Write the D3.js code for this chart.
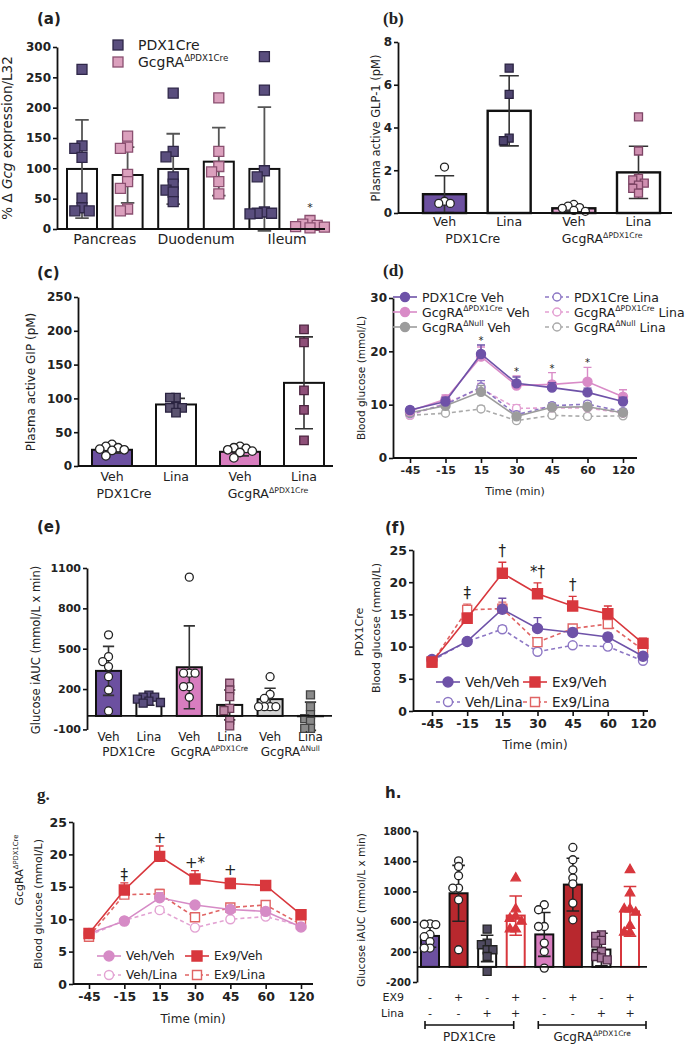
<!DOCTYPE html>
<html>
<head>
<meta charset="utf-8">
<script src="https://cdn.jsdelivr.net/npm/d3@7"></script>
<style>
  body { margin: 0; background: #fff; }
  svg { font-family: "DejaVu Sans", sans-serif; }
</style>
</head>
<body>
<svg id="fig" width="700" height="1050"></svg>
<script>
// ---------- (a) Gcg expression
const aTissues = ["Pancreas", "Duodenum", "Ileum"];
const aTicks = [0, 50, 100, 150, 200, 250, 300];
const aMeans = [99, 89, 99, 111, 99, 6];
const aSD = [81, 46, 58, 56, 102, 4];
const aPoints = [
  [263, 133, 137, 118, 51, 35, 30, 30],
  [153, 133, 135, 90, 78, 67, 30, 33],
  [224, 128, 119, 86, 74, 61, 64, 45],
  [216, 128, 94, 103, 78, 58],
  [284, 229, 96, 86, 26, 28, 26, 25],
  [3, 6, 14, 8, 2, 4]
];
const aStars = ["", "", "", "", "", "*"];

// ---------- (b) active GLP-1
const bTreat = ["Veh", "Lina", "Veh", "Lina"];
const bTicks = [0, 2, 4, 6, 8];
const bMeans = [0.88, 4.78, 0.22, 1.9];
const bSD = [0.86, 1.64, 0.13, 1.22];
const bPoints = [
  [2.15, 0.55, 0.45, 0.45],
  [6.78, 5.55, 3.5, 3.38],
  [0.32, 0.25, 0.22, 0.4, 0.12, 0.08],
  [4.5, 2.9, 1.62, 1.55, 1.4, 1.3, 1.15, 0.93]
];

// ---------- (c) active GIP
const cTreat = ["Veh", "Lina", "Veh", "Lina"];
const cTicks = [0, 50, 100, 150, 200, 250];
const cMeans = [24, 91, 21, 123];
const cSD = [5, 9, 6, 68];
const cPoints = [
  [29, 27, 32, 25, 23, 24, 15],
  [101, 101, 88, 86, 86, 79],
  [27, 29, 24, 26, 22, 12, 20],
  [202, 183, 112, 83, 38]
];

// genotype names
const genoBase = ["PDX1Cre", "GcgRA", "GcgRA"];
const genoSup = ["", "ΔPDX1Cre", "ΔNull"];

// ---------- (d) OGTT, all groups
const times = ["-45", "-15", "15", "30", "45", "60", "120"];
const dTicks = [0, 10, 20, 30];
const dPdxVeh = [9.0, 10.6, 19.5, 14.0, 13.2, 12.3, 10.6];
const dPdxVehSem = [0.5, 0.8, 1.7, 1.2, 0.9, 0.8, 0.8];
const dGcgVeh = [8.8, 11.0, 19.0, 13.6, 13.8, 14.3, 11.5];
const dGcgVehSem = [0.5, 0.8, 1.8, 1.8, 2.2, 2.7, 1.3];
const dNullVeh = [8.5, 9.8, 12.4, 7.8, 9.5, 9.6, 8.5];
const dNullVehSem = [0.4, 0.5, 1.2, 0.5, 0.6, 0.6, 0.5];
const dPdxLina = [8.3, 10.0, 13.3, 8.1, 9.8, 10.1, 8.7];
const dPdxLinaSem = [0.4, 0.5, 1.2, 0.6, 0.5, 0.5, 0.4];
const dGcgLina = [8.0, 10.3, 13.0, 9.3, 9.4, 9.4, 8.4];
const dGcgLinaSem = [0.4, 0.6, 1.0, 0.7, 0.6, 0.6, 0.5];
const dNullLina = [8.0, 8.4, 9.2, 7.0, 8.0, 7.8, 7.9];
const dNullLinaSem = [0.3, 0.4, 0.5, 0.4, 0.4, 0.4, 0.4];
const dMarks = ["", "", "*", "*", "*", "*", ""];

// ---------- (e) glucose iAUC
const eTreat = ["Veh", "Lina", "Veh", "Lina", "Veh", "Lina"];
const eTicks = [-100, 200, 500, 800, 1100];
const eMeans = [335, 115, 362, 82, 125, -2];
const eSD = [182, 35, 308, 111, 81, 105];
const ePoints = [
  [603, 441, 404, 367, 292, 193, 37],
  [155, 140, 140, 125, 110, 100, 95],
  [1032, 318, 318, 318, 218, 218, 139],
  [243, 193, 144, 57, 40, -30, -74],
  [292, 161, 130, 69, 69, 69, 69],
  [156, 69, 10, -20, -40, -92, -92]
];

// ---------- (f) PDX1Cre, Ex9 +/- Lina
const fTicks = [0, 5, 10, 15, 20, 25];
const fVehVeh = [8.0, 10.8, 15.8, 12.8, 12.2, 11.5, 8.5];
const fVehVehSem = [0.4, 0.4, 1.7, 1.7, 0.6, 0.6, 0.5];
const fVehLina = [7.8, 10.8, 12.7, 9.2, 10.2, 10.0, 7.8];
const fVehLinaSem = [0.3, 0.3, 0.5, 0.5, 0.4, 0.4, 0.3];
const fEx9Veh = [7.6, 14.4, 21.4, 18.2, 16.3, 15.1, 10.5];
const fEx9VehSem = [0.5, 0.8, 1.7, 1.7, 1.5, 1.2, 0.8];
const fEx9Lina = [7.5, 15.7, 15.9, 10.7, 12.8, 13.5, 9.5];
const fEx9LinaSem = [0.4, 0.9, 1.0, 0.6, 0.6, 0.6, 0.5];
const fMarks = ["", "‡", "†", "*†", "†", "", ""];

// ---------- (g) GcgRA dPDX1Cre, Ex9 +/- Lina
const gTicks = [0, 5, 10, 15, 20, 25];
const gVehVeh = [7.8, 9.7, 13.3, 12.2, 11.5, 11.2, 8.8];
const gVehVehSem = [0.4, 0.3, 0.8, 0.5, 0.5, 0.5, 0.4];
const gVehLina = [7.5, 9.8, 11.4, 8.7, 10.0, 10.4, 9.0];
const gVehLinaSem = [0.4, 0.3, 0.5, 0.4, 0.4, 0.4, 0.3];
const gEx9Veh = [7.8, 14.5, 19.7, 16.2, 15.5, 15.2, 10.7];
const gEx9VehSem = [0.6, 1.1, 1.6, 1.3, 0.8, 0.5, 0.6];
const gEx9Lina = [7.3, 13.8, 13.9, 10.3, 11.8, 12.2, 9.2];
const gEx9LinaSem = [0.4, 0.6, 0.7, 0.5, 0.5, 0.5, 0.4];
const gMarks = ["", "‡", "+", "+*", "+", "", ""];

// ---------- (h) iAUC, Ex9 +/- Lina
const hTicks = [-200, 200, 600, 1000, 1400, 1800];
const hEx9 = ["-", "+", "-", "+", "-", "+", "-", "+"];
const hLina = ["-", "-", "+", "+", "-", "-", "+", "+"];
const hMeans = [410, 975, 245, 680, 430, 1090, 230, 735];
const hSD = [150, 370, 175, 260, 290, 350, 215, 330];
const hPoints = [
  [571, 560, 565, 430, 400, 336, 250, 250],
  [1405, 1330, 1207, 1044, 1044, 889, 227],
  [500, 315, 295, 227, 227, 138, -60],
  [1176, 766, 668, 640, 602, 500, 500],
  [757, 823, 535, 535, 315, 204, -16],
  [1582, 1419, 1286, 1176, 1100, 845, 624],
  [425, 403, 350, 315, 204, 138, 94, 120],
  [1286, 977, 766, 766, 721, 545, 456, 456]
];

// colours
const PURPLE = "#6c50a0";
const PINK = "#d87dbf";
const DARKRED = "#b8282e";
const RED = "#d8373d";
const INK = "#222";

const svg = d3.select("#fig");

// ---------- helpers
function rich(t, parts, size) {
  let cur = 0;
  parts.forEach(p => {
    const ts = t.append("tspan").text(p.t);
    const target = p.sup ? -size * 0.42 : 0;
    if (target !== cur) ts.attr("dy", target - cur);
    cur = target;
    if (p.sup) ts.attr("font-size", size * 0.62);
    if (p.it) ts.attr("font-style", "italic");
  });
}

function label(x, y, parts, size, o = {}) {
  const t = svg.append("text")
    .attr("font-size", size)
    .attr("text-anchor", o.anchor || "start")
    .attr("fill", o.color || INK);
  if (o.bold) t.attr("font-weight", "bold");
  if (o.serif) t.attr("font-family", "Liberation Serif, serif");
  if (o.rotate) t.attr("transform", `translate(${x},${y}) rotate(-90)`);
  else t.attr("x", x).attr("y", y);
  rich(t, typeof parts === "string" ? [{ t: parts }] : parts, size);
  return t;
}

function geno(i) {
  return genoSup[i] ? [{ t: genoBase[i] }, { t: genoSup[i], sup: true }] : [{ t: genoBase[i] }];
}

function yAxis(y, x0, ticks, size) {
  const g = svg.append("g").attr("transform", `translate(${x0},0)`)
    .call(d3.axisLeft(y).tickValues(ticks).tickSize(4).tickSizeOuter(0).tickPadding(2).tickFormat(d => String(d)));
  g.select(".domain").attr("stroke", "#111").attr("stroke-width", 1.8);
  g.selectAll(".tick line").attr("stroke", "#111").attr("stroke-width", 1.6);
  g.selectAll(".tick text").attr("font-size", size).attr("font-weight", "bold")
    .attr("font-family", "DejaVu Sans, sans-serif").attr("fill", INK);
  return g;
}

function hLine(y0, xa, xb) {
  svg.append("line").attr("x1", xa).attr("x2", xb).attr("y1", y0).attr("y2", y0)
    .attr("stroke", "#111").attr("stroke-width", 1.8);
}

function symArea(shape, s) {
  if (shape === d3.symbolSquare) return s * s;
  if (shape === d3.symbolTriangle) return s * s * 0.6;
  return Math.PI * s * s / 4;
}

// spread the dots of one group sideways so they do not overlap too much
function dodge(vals, y, cx, s) {
  const step = s * 0.72;
  const out = [];
  vals.map((v, i) => i).sort((a, b) => vals[b] - vals[a]).forEach(i => {
    const py = y(vals[i]);
    for (let k = 0; k < 40; k++) {
      const px = cx + (k === 0 ? 0 : (k % 2 ? -1 : 1) * Math.ceil(k / 2) * step);
      if (out.every(p => Math.hypot(p.x - px, p.y - py) >= step * 0.98)) {
        out.push({ x: px, y: py });
        break;
      }
    }
  });
  return out;
}

function bars(o) {
  const n = o.means.length;
  const x = d3.scaleBand().domain(d3.range(n)).range([o.x0, o.x1]).paddingInner(o.pad);
  const bw = x.bandwidth();
  const g = svg.append("g");
  g.selectAll("rect").data(o.means).join("rect")
    .attr("x", (d, i) => x(i))
    .attr("y", d => Math.min(o.y(d), o.y(0)))
    .attr("width", bw)
    .attr("height", d => Math.abs(o.y(d) - o.y(0)))
    .attr("fill", (d, i) => o.styles[i].fill)
    .attr("stroke", (d, i) => o.styles[i].stroke || "#111")
    .attr("stroke-width", o.barW || 2);
  const cap = bw * (o.cap || 0.45) / 2;
  g.selectAll("path.err").data(o.means).join("path").attr("class", "err")
    .attr("d", (d, i) => {
      const cx = x(i) + bw / 2, y1 = o.y(d + o.sd[i]), y2 = o.y(d - o.sd[i]);
      return `M${cx},${y1}V${y2}M${cx - cap},${y1}H${cx + cap}M${cx - cap},${y2}H${cx + cap}`;
    })
    .attr("fill", "none")
    .attr("stroke", (d, i) => o.styles[i].err || "#333")
    .attr("stroke-width", o.errW || 1.6);
  o.pts.forEach((vals, i) => {
    const st = o.styles[i];
    g.selectAll(null).data(dodge(vals, o.y, x(i) + bw / 2, o.ptSize)).join("path")
      .attr("transform", p => `translate(${p.x},${p.y})`)
      .attr("d", d3.symbol(st.shape, symArea(st.shape, o.ptSize))())
      .attr("fill", st.pfill)
      .attr("stroke", st.pstroke || "#222")
      .attr("stroke-width", 1.3);
  });
  return x;
}

function timeAxis(x, y0, xa, xb, size) {
  const g = svg.append("g").attr("transform", `translate(0,${y0})`)
    .call(d3.axisBottom(x).tickSize(5).tickSizeOuter(0).tickPadding(3));
  g.select(".domain").attr("d", `M${xa},0H${xb}`).attr("stroke", "#111").attr("stroke-width", 1.8);
  g.selectAll(".tick line").attr("stroke", "#111").attr("stroke-width", 1.6);
  g.selectAll(".tick text").attr("font-size", size).attr("font-weight", "bold")
    .attr("font-family", "DejaVu Sans, sans-serif").attr("fill", INK);
}

function marker(g, cx, cy, st) {
  g.append("path")
    .attr("transform", `translate(${cx},${cy})`)
    .attr("d", d3.symbol(st.shape, symArea(st.shape, st.size))())
    .attr("fill", st.open ? "#fff" : st.color)
    .attr("stroke", st.color)
    .attr("stroke-width", 1.4);
}

function series(x, y, vals, sem, st) {
  const g = svg.append("g");
  g.selectAll("path.err").data(vals).join("path").attr("class", "err")
    .attr("d", (d, i) => {
      const cx = x(times[i]), y1 = y(d + sem[i]);
      return `M${cx},${y(d)}V${y1}M${cx - 4},${y1}H${cx + 4}`;
    })
    .attr("fill", "none").attr("stroke", st.color).attr("stroke-width", 1.4);
  g.append("path").datum(vals)
    .attr("d", d3.line().x((d, i) => x(times[i])).y(d => y(d)))
    .attr("fill", "none").attr("stroke", st.color).attr("stroke-width", 1.6)
    .attr("stroke-dasharray", st.open ? "4,3" : null);
  vals.forEach((v, i) => marker(g, x(times[i]), y(v), st));
}

function legendItem(cx, cy, st, parts, size) {
  svg.append("line").attr("x1", cx - 12).attr("x2", cx + 12).attr("y1", cy).attr("y2", cy)
    .attr("stroke", st.color).attr("stroke-width", 1.6).attr("stroke-dasharray", st.open ? "4,3" : null);
  marker(svg, cx, cy, st);
  label(cx + 17, cy + size * 0.36, parts, size);
}

// significance symbols above the highest error bar at each time
function marks(x, y, sets, arr, size, lift) {
  arr.forEach((m, i) => {
    if (!m) return;
    const top = d3.max(sets, s => s[0][i] + s[1][i]);
    label(x(times[i]), y(top) - lift, m, size, { anchor: "middle" });
  });
}

// ================= (a)
{
  const y = d3.scaleLinear().domain([0, 300]).range([229, 47]);
  const dark = { fill: "#fff", shape: d3.symbolSquare, pfill: "#5a4e7e", pstroke: "#2f2748", err: "#555" };
  const pink = { fill: "#fff", shape: d3.symbolSquare, pfill: "#dba0bd", pstroke: "#8a4f70", err: "#555" };
  const x = bars({ means: aMeans, sd: aSD, pts: aPoints, x0: 67, x1: 325, pad: 0.342, y,
    styles: [dark, pink, dark, pink, dark, pink], ptSize: 10, errW: 1.8 });
  yAxis(y, 57, aTicks, 12);
  hLine(y(0), 57, 325);
  aTissues.forEach((t, k) => label((x(2 * k) + x(2 * k + 1) + x.bandwidth()) / 2, 244, t, 14, { anchor: "middle" }));
  aStars.forEach((s, i) => {
    if (s) label(x(i) + x.bandwidth() / 2, y(d3.max(aPoints[i])) - 10, s, 11, { anchor: "middle" });
  });
  svg.append("rect").attr("x", 113).attr("y", 40).attr("width", 10).attr("height", 10)
    .attr("fill", dark.pfill).attr("stroke", dark.pstroke).attr("stroke-width", 1.3);
  svg.append("rect").attr("x", 113).attr("y", 57).attr("width", 10).attr("height", 10)
    .attr("fill", pink.pfill).attr("stroke", pink.pstroke).attr("stroke-width", 1.3);
  label(138, 50, geno(0), 14);
  label(138, 67, geno(1), 14);
  label(12, 138, [{ t: "% Δ " }, { t: "Gcg", it: true }, { t: " expression/L32" }], 13.5, { rotate: true, anchor: "middle" });
  label(37, 24, "(a)", 15, { bold: true });
}

// ================= (b)
{
  const y = d3.scaleLinear().domain([0, 8]).range([213, 42]);
  const x = bars({ means: bMeans, sd: bSD, pts: bPoints, x0: 423, x1: 660, pad: 0.335, y,
    styles: [
      { fill: PURPLE, shape: d3.symbolCircle, pfill: "#fff", pstroke: "#222" },
      { fill: "#fff", shape: d3.symbolSquare, pfill: "#4f4570", pstroke: "#2a2340" },
      { fill: "#e6a6d2", shape: d3.symbolCircle, pfill: "#fff", pstroke: "#222" },
      { fill: "#fff", shape: d3.symbolSquare, pfill: "#cf8fb0", pstroke: "#7d4565" }
    ], ptSize: 8, barW: 2.4 });
  yAxis(y, 398, bTicks, 12);
  hLine(y(0), 398, 672);
  bTreat.forEach((t, i) => label(x(i) + x.bandwidth() / 2, 226, t, 12.5, { anchor: "middle" }));
  [0, 1].forEach(k => label((x(2 * k) + x(2 * k + 1) + x.bandwidth()) / 2 - 4, 243, geno(k), 12.5, { anchor: "middle" }));
  label(380, 128, "Plasma active GLP-1 (pM)", 11.5, { rotate: true, anchor: "middle" });
  label(383, 24, "(b)", 17, { bold: true, serif: true });
}

// ================= (c)
{
  const y = d3.scaleLinear().domain([0, 250]).range([466, 297]);
  const x = bars({ means: cMeans, sd: cSD, pts: cPoints, x0: 92, x1: 324, pad: 0.375, y,
    styles: [
      { fill: PURPLE, shape: d3.symbolCircle, pfill: "#fff", pstroke: "#222" },
      { fill: "#fff", shape: d3.symbolSquare, pfill: "#5b5370", pstroke: "#2a2340" },
      { fill: PINK, shape: d3.symbolCircle, pfill: "#fff", pstroke: "#222" },
      { fill: "#fff", shape: d3.symbolSquare, pfill: "#8e4f78", pstroke: "#4d2540" }
    ], ptSize: 8.5 });
  yAxis(y, 78, cTicks, 12);
  hLine(y(0), 78, 333);
  cTreat.forEach((t, i) => label(x(i) + x.bandwidth() / 2, 481, t, 12.5, { anchor: "middle" }));
  // group names sit a little left of the pair centre in the original
  [0, 1].forEach(k => label((x(2 * k) + x(2 * k + 1) + x.bandwidth()) / 2 - (k ? 4 : 20), 498, geno(k), 12.5, { anchor: "middle" }));
  label(35, 382, "Plasma active GIP (pM)", 12, { rotate: true, anchor: "middle" });
  label(37, 278, "(c)", 15, { bold: true });
}

// ================= (d)
{
  const y = d3.scaleLinear().domain([0, 30]).range([458, 298]);
  const x = d3.scalePoint().domain(times).range([410, 623]);
  const st = {
    pv: { color: "#6e52a8", shape: d3.symbolCircle, size: 9 },
    gv: { color: "#d98bc7", shape: d3.symbolCircle, size: 9 },
    nv: { color: "#9c9c9c", shape: d3.symbolCircle, size: 9 },
    pl: { color: "#8d77c4", shape: d3.symbolCircle, size: 8, open: true },
    gl: { color: "#e3a0d2", shape: d3.symbolCircle, size: 8, open: true },
    nl: { color: "#aaaaaa", shape: d3.symbolCircle, size: 8, open: true }
  };
  series(x, y, dNullLina, dNullLinaSem, st.nl);
  series(x, y, dGcgLina, dGcgLinaSem, st.gl);
  series(x, y, dPdxLina, dPdxLinaSem, st.pl);
  series(x, y, dNullVeh, dNullVehSem, st.nv);
  series(x, y, dGcgVeh, dGcgVehSem, st.gv);
  series(x, y, dPdxVeh, dPdxVehSem, st.pv);
  yAxis(y, 393, dTicks, 12);
  timeAxis(x, 458, 393, 637, 11);
  marks(x, y, [[dPdxVeh, dPdxVehSem], [dGcgVeh, dGcgVehSem]], dMarks, 10, 1);
  legendItem(405, 297, st.pv, "PDX1Cre Veh", 12.5);
  legendItem(405, 312, st.gv, [...geno(1), { t: " Veh" }], 12.5);
  legendItem(405, 327, st.nv, [...geno(2), { t: " Veh" }], 12.5);
  legendItem(557, 297, st.pl, "PDX1Cre Lina", 12.5);
  legendItem(557, 312, st.gl, [...geno(1), { t: " Lina" }], 12.5);
  legendItem(557, 327, st.nl, [...geno(2), { t: " Lina" }], 12.5);
  label(365, 378, "Blood glucose (mmol/L)", 10.5, { rotate: true, anchor: "middle" });
  label(515, 495, "Time (min)", 11, { anchor: "middle" });
  label(383, 276, "(d)", 17, { bold: true, serif: true });
}

// ================= (e)
{
  const y = d3.scaleLinear().domain([-100, 1100]).range([729.4, 568]);
  const x = bars({ means: eMeans, sd: eSD, pts: ePoints, x0: 96, x1: 323, pad: 0.38, y,
    styles: [
      { fill: PURPLE, shape: d3.symbolCircle, pfill: "#fff", pstroke: "#222" },
      { fill: "#fff", shape: d3.symbolSquare, pfill: "#5a4e7e", pstroke: "#2a2340" },
      { fill: PINK, shape: d3.symbolCircle, pfill: "#fff", pstroke: "#222" },
      { fill: "#fff", shape: d3.symbolSquare, pfill: "#c18aa8", pstroke: "#6a3a55" },
      { fill: "#d4d4d4", shape: d3.symbolCircle, pfill: "#fff", pstroke: "#222" },
      { fill: "#fff", shape: d3.symbolSquare, pfill: "#8a8a8a", pstroke: "#444" }
    ], ptSize: 8 });
  yAxis(y, 87, eTicks, 11);
  hLine(y(0), 87, 332);
  eTreat.forEach((t, i) => label(x(i) + x.bandwidth() / 2, 741, t, 12, { anchor: "middle" }));
  [0, 1, 2].forEach(k => label((x(2 * k) + x(2 * k + 1) + x.bandwidth()) / 2, 756, geno(k), 12, { anchor: "middle" }));
  label(40, 650, "Glucose iAUC (mmol/L x min)", 11.5, { rotate: true, anchor: "middle" });
  label(37, 532, "(e)", 15, { bold: true });
}

// ================= (f) and (g)
function ex9Panel(p) {
  const y = d3.scaleLinear().domain([0, 25]).range([p.y0, p.y1]);
  const x = d3.scalePoint().domain(times).range([p.xa, p.xb]);
  const st = {
    vv: { color: p.main, shape: d3.symbolCircle, size: 10 },
    vl: { color: p.light, shape: d3.symbolCircle, size: 9, open: true },
    ev: { color: RED, shape: d3.symbolSquare, size: 10 },
    el: { color: "#e06464", shape: d3.symbolSquare, size: 9, open: true }
  };
  series(x, y, p.vl[0], p.vl[1], st.vl);
  series(x, y, p.el[0], p.el[1], st.el);
  series(x, y, p.vv[0], p.vv[1], st.vv);
  series(x, y, p.ev[0], p.ev[1], st.ev);
  yAxis(y, p.axisX, p.ticks, 12.5);
  timeAxis(x, p.y0, p.axisX, p.axisEnd, 12.5);
  marks(x, y, [p.vv, p.vl, p.ev, p.el], p.marks, 15, p.lift);
  legendItem(p.legX, p.legY, st.vv, "Veh/Veh", p.legSize);
  legendItem(p.legX, p.legY + p.legGap, st.vl, "Veh/Lina", p.legSize);
  legendItem(p.legX + p.legCol, p.legY, st.ev, "Ex9/Veh", p.legSize);
  legendItem(p.legX + p.legCol, p.legY + p.legGap, st.el, "Ex9/Lina", p.legSize);
}

ex9Panel({ y0: 711, y1: 550, xa: 432, xb: 643, axisX: 413, axisEnd: 648, ticks: fTicks,
  main: "#6e52a8", light: "#8d77c4",
  vv: [fVehVeh, fVehVehSem], vl: [fVehLina, fVehLinaSem], ev: [fEx9Veh, fEx9VehSem], el: [fEx9Lina, fEx9LinaSem],
  marks: fMarks, lift: 6, legX: 448, legY: 682, legGap: 20, legCol: 87, legSize: 13.5 });
label(363, 632, "PDX1Cre", 11, { rotate: true, anchor: "middle" });
label(380, 628, "Blood glucose (mmol/L)", 11, { rotate: true, anchor: "middle" });
label(535, 749, "Time (min)", 12, { anchor: "middle" });
label(385, 533, "(f)", 15, { bold: true });

ex9Panel({ y0: 984, y1: 822, xa: 89, xb: 301, axisX: 73, axisEnd: 313, ticks: gTicks,
  main: "#d68bc6", light: "#e3a3d3",
  vv: [gVehVeh, gVehVehSem], vl: [gVehLina, gVehLinaSem], ev: [gEx9Veh, gEx9VehSem], el: [gEx9Lina, gEx9LinaSem],
  marks: gMarks, lift: 3, legX: 109, legY: 956, legGap: 19, legCol: 88, legSize: 12 });
label(23, 870, geno(1), 11, { rotate: true, anchor: "middle" });
label(42, 904, "Blood glucose (mmol/L)", 11, { rotate: true, anchor: "middle" });
label(193, 1023, "Time (min)", 12, { anchor: "middle" });
label(37, 800, "g.", 17, { bold: true, serif: true });

// ================= (h)
{
  const y = d3.scaleLinear().domain([-200, 1800]).range([982, 831]);
  const circ = f => ({ fill: f, shape: d3.symbolCircle, pfill: "#fff", pstroke: "#222", err: "#222" });
  const tri = { fill: "#fff", stroke: RED, shape: d3.symbolTriangle, pfill: RED, pstroke: RED, err: RED };
  const x = bars({ means: hMeans, sd: hSD, pts: hPoints, x0: 421, x1: 639, pad: 0.37, y,
    styles: [
      circ(PURPLE), circ(DARKRED),
      { fill: "#fff", shape: d3.symbolSquare, pfill: "#4f4a60", pstroke: "#222", err: "#222" },
      tri,
      circ(PINK), circ(DARKRED),
      { fill: "#fff", shape: d3.symbolSquare, pfill: "#a6789c", pstroke: "#4d2a45", err: "#222" },
      tri
    ], ptSize: 8, cap: 0.7 });
  const c = i => x(i) + x.bandwidth() / 2;
  yAxis(y, 417, hTicks, 10);
  hLine(y(0), 417, 647);
  hEx9.forEach((s, i) => label(c(i), 1001, s, 11, { anchor: "middle" }));
  hLina.forEach((s, i) => label(c(i), 1017, s, 11, { anchor: "middle" }));
  label(404, 1001, "EX9", 11, { anchor: "end" });
  label(404, 1017, "Lina", 11, { anchor: "end" });
  [[c(0) - 5, c(3) - 2], [c(4) - 6, c(7) + 16]].forEach(([a, b], k) => {
    svg.append("path").attr("d", `M${a},1021V1029M${a},1025H${b}M${b},1021V1029`)
      .attr("stroke", "#111").attr("stroke-width", 1.6).attr("fill", "none");
    label((a + b) / 2, 1041, geno(k), 12, { anchor: "middle" });
  });
  label(365, 910, "Glucose iAUC (mmol/L x min)", 10.5, { rotate: true, anchor: "middle" });
  label(385, 798, "h.", 15, { bold: true });
}
</script>
</body>
</html>
